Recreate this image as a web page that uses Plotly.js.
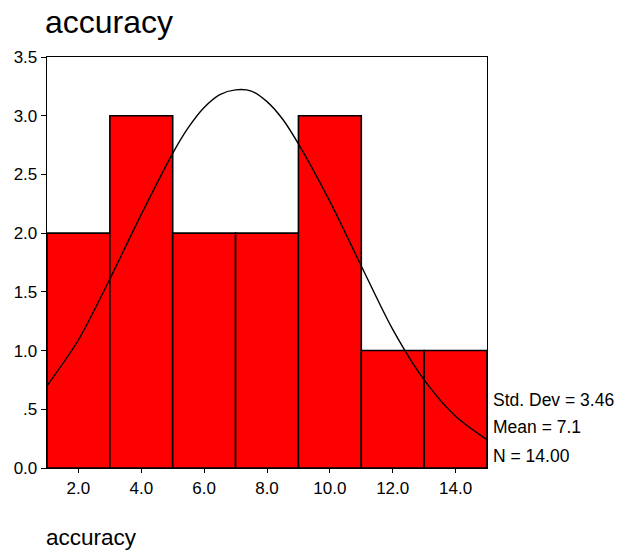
<!DOCTYPE html>
<html>
<head>
<meta charset="utf-8">
<script src="https://cdn.plot.ly/plotly-3.0.1.min.js"></script>
<style>html,body{margin:0;padding:0;background:#fff;}#chart{width:620px;height:552px;}</style>
</head>
<body>
<div id="chart"></div>
<script>
// Histogram bins (centers) and counts
const binCenters = [2, 4, 6, 8, 10, 12, 14];
const counts = [2, 3, 2, 2, 3, 1, 1];
// Normal curve
const curveX = [1, 2, 3, 4, 5, 5.5, 6, 6.5, 7, 7.5, 8, 8.5, 9, 10, 11, 12, 13, 14, 15];
const curveY = [0.70, 1.09, 1.61, 2.16, 2.68, 2.90, 3.07, 3.18, 3.22, 3.21, 3.12, 2.97, 2.76, 2.27, 1.72, 1.18, 0.75, 0.44, 0.24];
// Tick labels
const yTickVals = [0, 0.5, 1, 1.5, 2, 2.5, 3, 3.5];
const yTickText = ['0.0', '.5', '1.0', '1.5', '2.0', '2.5', '3.0', '3.5'];
const xTickVals = [2, 4, 6, 8, 10, 12, 14];
const xTickText = ['2.0', '4.0', '6.0', '8.0', '10.0', '12.0', '14.0'];
const stats = ['Std. Dev = 3.46', 'Mean = 7.1', 'N = 14.00'];
const statsPos = [0.165, 0.1, 0.029];

const font = 'Liberation Sans, Arial, sans-serif';

const traces = [
  {
    type: 'bar', x: binCenters, y: counts, width: 2,
    marker: {color: '#ff0000', line: {color: '#000000', width: 1.6}},
    hoverinfo: 'skip'
  },
  {
    type: 'scatter', mode: 'lines', x: curveX, y: curveY,
    line: {color: '#000000', width: 1.4, shape: 'spline', smoothing: 0.8},
    hoverinfo: 'skip'
  }
];

const annotations = stats.map((t, i) => ({
  text: t, xref: 'paper', yref: 'paper', x: 1, y: statsPos[i],
  xanchor: 'left', yanchor: 'middle', xshift: 4, showarrow: false,
  font: {family: font, size: 17.5, color: '#000'}
}));
annotations.push({
  text: 'accuracy', xref: 'paper', yref: 'paper', x: 0, y: -0.168,
  xanchor: 'left', yanchor: 'middle', showarrow: false, xshift: -3,
  font: {family: font, size: 22.5, color: '#000'}
});

const layout = {
  width: 620, height: 552,
  margin: {l: 47, r: 133, t: 57, b: 84},
  paper_bgcolor: '#fff', plot_bgcolor: '#fff',
  showlegend: false,
  bargap: 0,
  title: {
    text: 'accuracy', x: 45 / 620, xanchor: 'left', xref: 'container',
    y: 1 - 22 / 552, yanchor: 'middle', yref: 'container',
    font: {family: font, size: 32, color: '#000'}
  },
  xaxis: {
    range: [1, 15], tickvals: xTickVals, ticktext: xTickText,
    showline: true, mirror: true, linecolor: '#000', linewidth: 1.3,
    ticks: 'outside', ticklen: 4, tickcolor: '#000', tickwidth: 1,
    showgrid: false, zeroline: false,
    tickfont: {family: font, size: 17, color: '#000'}
  },
  yaxis: {
    range: [0, 3.5], tickvals: yTickVals, ticktext: yTickText,
    showline: true, mirror: true, linecolor: '#000', linewidth: 1.3,
    ticks: 'outside', ticklen: 5, tickcolor: '#000', tickwidth: 1,
    showgrid: false, zeroline: false,
    tickfont: {family: font, size: 17, color: '#000'}
  },
  annotations: annotations
};

Plotly.newPlot('chart', traces, layout, {displayModeBar: false, staticPlot: true});
</script>
</body>
</html>
